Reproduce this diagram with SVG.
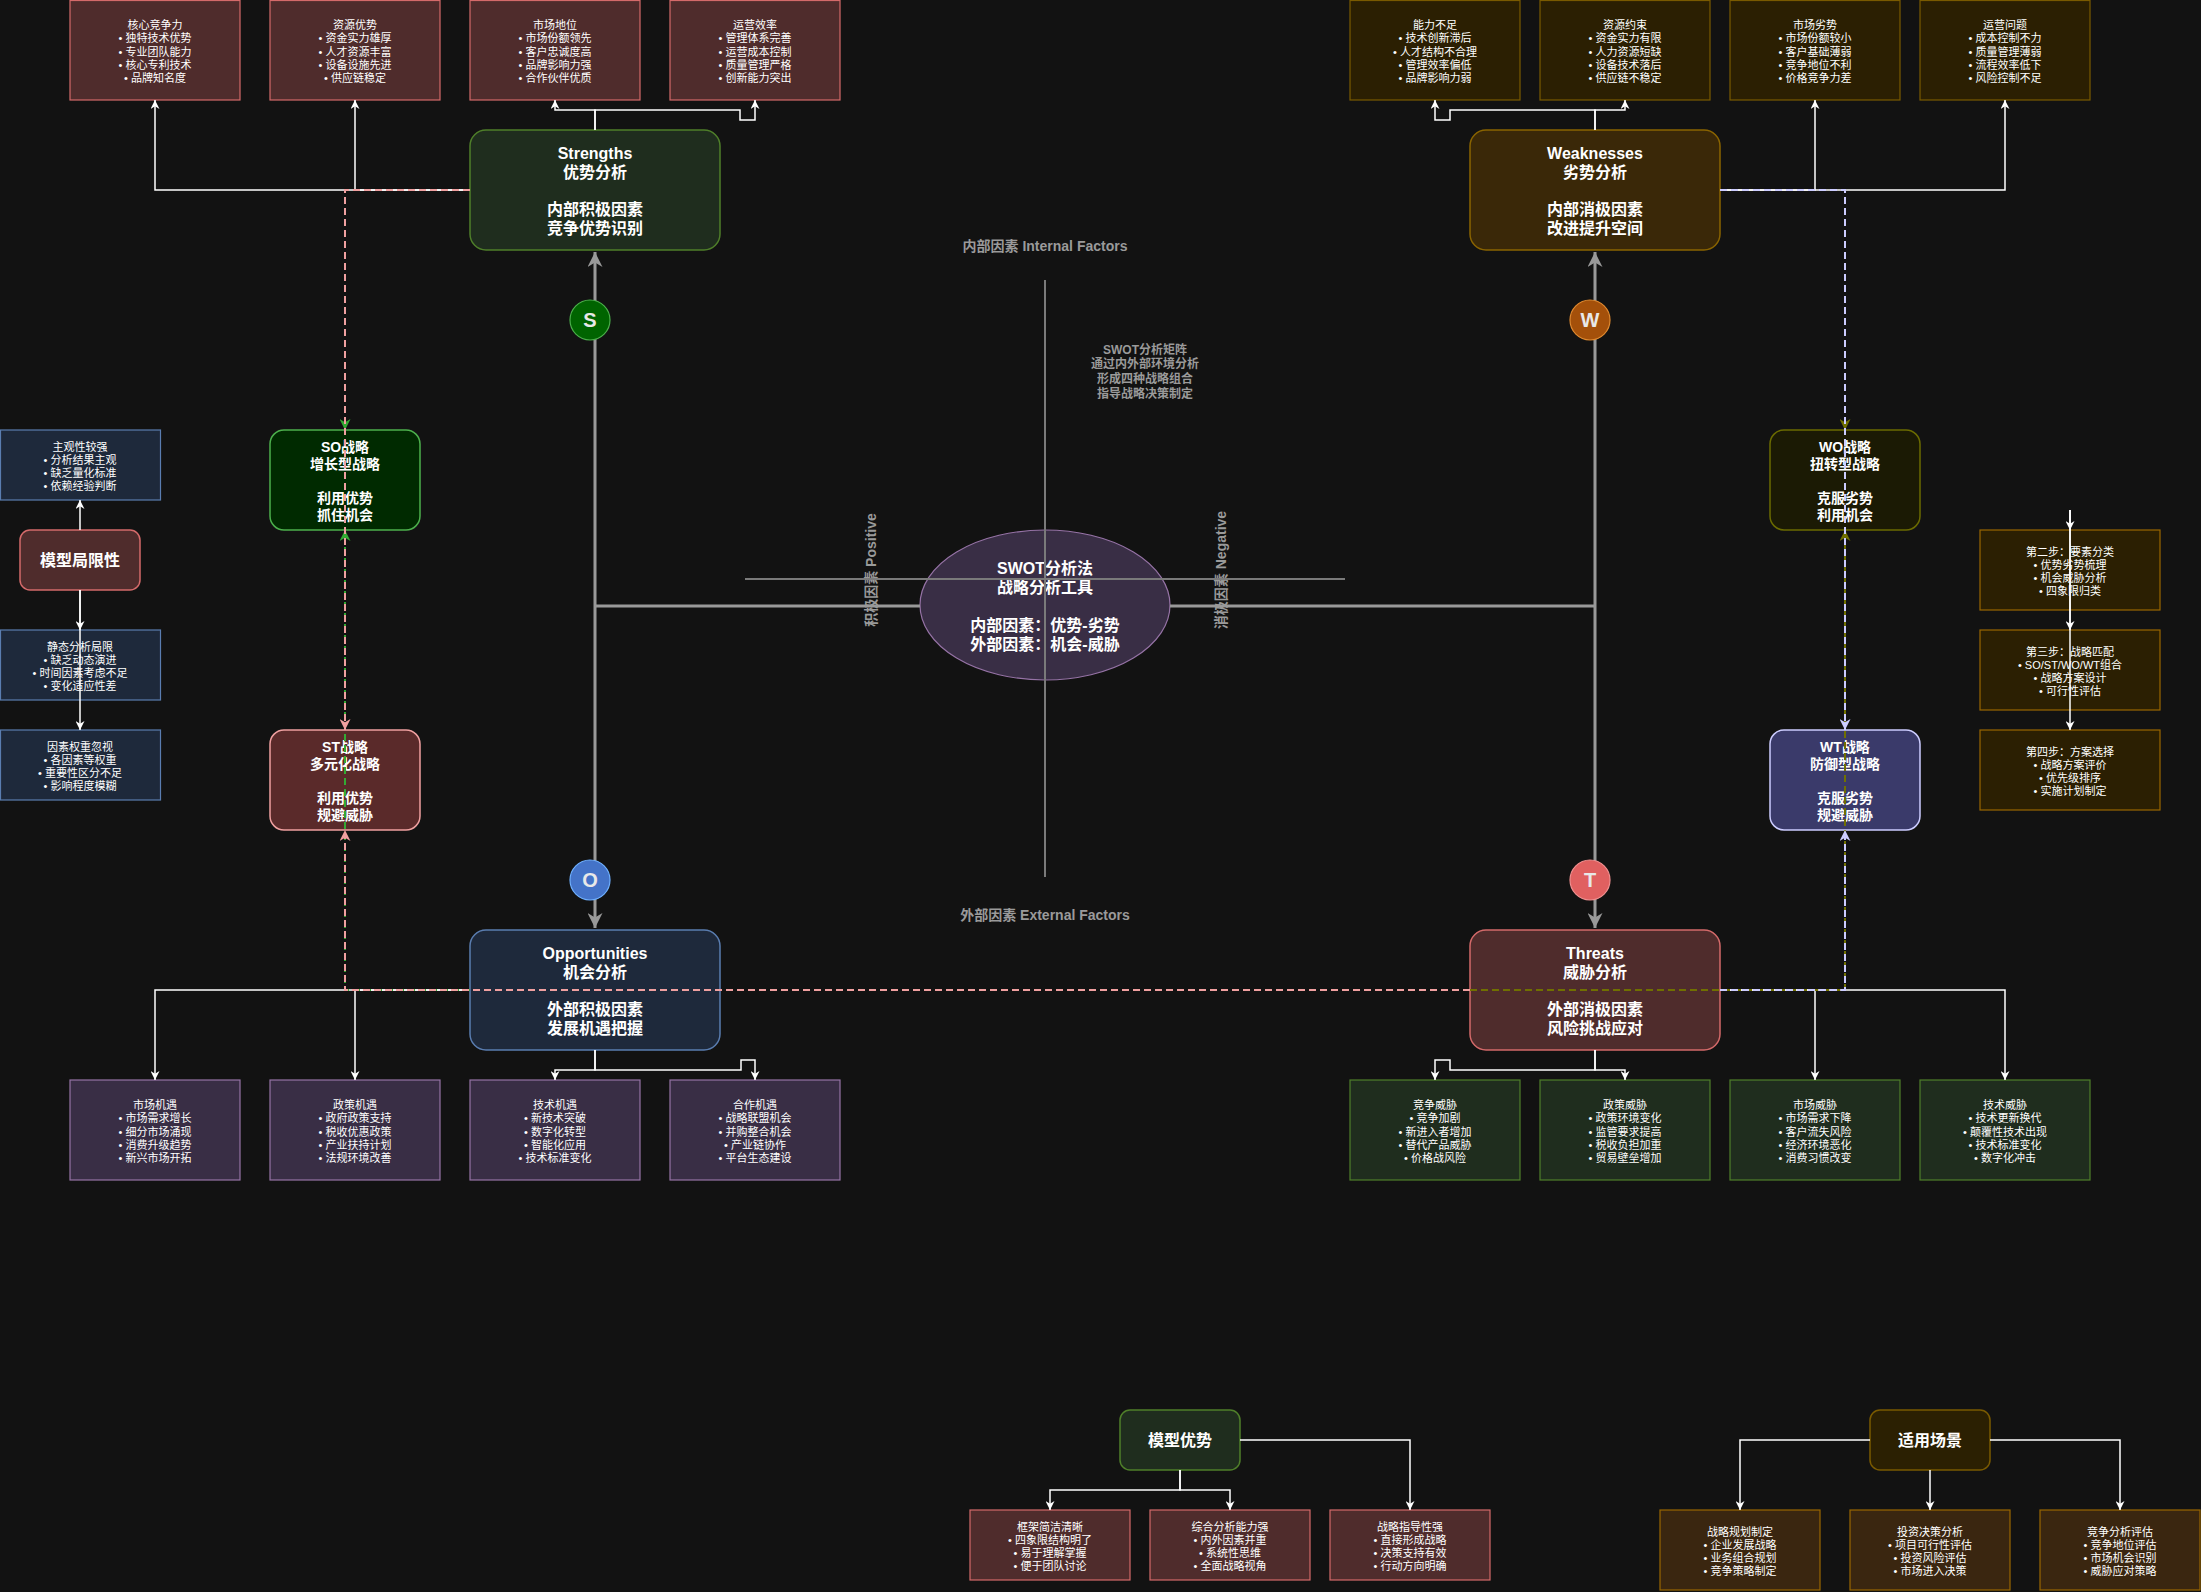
<svg xmlns="http://www.w3.org/2000/svg" width="2201" height="1592" viewBox="0 0 2201 1592">
<defs>
  <style>
    text { font-family: "Liberation Sans", "Noto Sans CJK SC", sans-serif; fill: #ffffff; text-anchor: middle; }
    .sm { font-size: 11px; }
    .big { font-size: 16px; font-weight: bold; }
    .mid { font-size: 14px; font-weight: bold; }
    .note { font-size: 12px; font-weight: bold; fill: #9a9a9a; }
    .axis-label { font-size: 14px; font-weight: bold; fill: #9a9a9a; }
    .letter { font-size: 20px; font-weight: bold; fill: #e8e8e8; }
    .s-box { fill: #4f2c2c; stroke: #d46a6a; stroke-width: 1.2; }
    .w-box { fill: #2b1f02; stroke: #7a5a00; stroke-width: 1.2; }
    .o-box { fill: #392e45; stroke: #9673a6; stroke-width: 1.2; }
    .t-box { fill: #1f2d1e; stroke: #4f7f2a; stroke-width: 1.2; }
    .b-box { fill: #1e293b; stroke: #5a7db0; stroke-width: 1.2; }
    .a-box { fill: #2b1f02; stroke: #996600; stroke-width: 1.2; }
    .a2-box { fill: #3a2610; stroke: #996600; stroke-width: 1.2; }
    .wire { fill: none; stroke: #ffffff; stroke-width: 1.5; marker-end: url(#aw); }
    .axis { fill: none; stroke: #999999; stroke-width: 3; }
    .cross { fill: none; stroke: #7a7a7a; stroke-width: 2; }
    .dash { fill: none; stroke-width: 2; stroke-dasharray: 7 4; }
  </style>
  <marker id="aw" viewBox="0 0 10 10" refX="10" refY="5" markerWidth="9" markerHeight="9" orient="auto" markerUnits="userSpaceOnUse">
    <path d="M0,0 L10,5 L0,10 L3,5 z" fill="#ffffff"/>
  </marker>
  <marker id="ag" viewBox="0 0 10 10" refX="10" refY="5" markerWidth="15" markerHeight="15" orient="auto" markerUnits="userSpaceOnUse">
    <path d="M0,0 L10,5 L0,10 L3,5 z" fill="#999999"/>
  </marker>
  <marker id="a-green" viewBox="0 0 10 10" refX="10" refY="5" markerWidth="11" markerHeight="11" orient="auto" markerUnits="userSpaceOnUse">
    <path d="M0,0 L10,5 L0,10 L3,5 z" fill="#33aa33"/>
  </marker>
  <marker id="a-pink" viewBox="0 0 10 10" refX="10" refY="5" markerWidth="11" markerHeight="11" orient="auto" markerUnits="userSpaceOnUse">
    <path d="M0,0 L10,5 L0,10 L3,5 z" fill="#f0a0a0"/>
  </marker>
  <marker id="a-olive" viewBox="0 0 10 10" refX="10" refY="5" markerWidth="11" markerHeight="11" orient="auto" markerUnits="userSpaceOnUse">
    <path d="M0,0 L10,5 L0,10 L3,5 z" fill="#707000"/>
  </marker>
  <marker id="a-lav" viewBox="0 0 10 10" refX="10" refY="5" markerWidth="11" markerHeight="11" orient="auto" markerUnits="userSpaceOnUse">
    <path d="M0,0 L10,5 L0,10 L3,5 z" fill="#ccccff"/>
  </marker>
</defs>

<rect x="0" y="0" width="2201" height="1592" fill="#121212"/>

<!-- Strengths factor boxes -->
<g id="s-core"><rect class="s-box" x="70" y="0.5" width="170" height="99.5"/>
  <text class="sm"><tspan x="155" y="29">核心竞争力</tspan><tspan x="155" y="42.3">• 独特技术优势</tspan><tspan x="155" y="55.6">• 专业团队能力</tspan><tspan x="155" y="68.9">• 核心专利技术</tspan><tspan x="155" y="82.2">• 品牌知名度</tspan></text></g>
<g id="s-resource"><rect class="s-box" x="270" y="0.5" width="170" height="99.5"/>
  <text class="sm"><tspan x="355" y="29">资源优势</tspan><tspan x="355" y="42.3">• 资金实力雄厚</tspan><tspan x="355" y="55.6">• 人才资源丰富</tspan><tspan x="355" y="68.9">• 设备设施先进</tspan><tspan x="355" y="82.2">• 供应链稳定</tspan></text></g>
<g id="s-market"><rect class="s-box" x="470" y="0.5" width="170" height="99.5"/>
  <text class="sm"><tspan x="555" y="29">市场地位</tspan><tspan x="555" y="42.3">• 市场份额领先</tspan><tspan x="555" y="55.6">• 客户忠诚度高</tspan><tspan x="555" y="68.9">• 品牌影响力强</tspan><tspan x="555" y="82.2">• 合作伙伴优质</tspan></text></g>
<g id="s-ops"><rect class="s-box" x="670" y="0.5" width="170" height="99.5"/>
  <text class="sm"><tspan x="755" y="29">运营效率</tspan><tspan x="755" y="42.3">• 管理体系完善</tspan><tspan x="755" y="55.6">• 运营成本控制</tspan><tspan x="755" y="68.9">• 质量管理严格</tspan><tspan x="755" y="82.2">• 创新能力突出</tspan></text></g>

<!-- Weakness factor boxes -->
<g id="w-ability"><rect class="w-box" x="1350" y="0.5" width="170" height="99.5"/>
  <text class="sm"><tspan x="1435" y="29">能力不足</tspan><tspan x="1435" y="42.3">• 技术创新滞后</tspan><tspan x="1435" y="55.6">• 人才结构不合理</tspan><tspan x="1435" y="68.9">• 管理效率偏低</tspan><tspan x="1435" y="82.2">• 品牌影响力弱</tspan></text></g>
<g id="w-resource"><rect class="w-box" x="1540" y="0.5" width="170" height="99.5"/>
  <text class="sm"><tspan x="1625" y="29">资源约束</tspan><tspan x="1625" y="42.3">• 资金实力有限</tspan><tspan x="1625" y="55.6">• 人力资源短缺</tspan><tspan x="1625" y="68.9">• 设备技术落后</tspan><tspan x="1625" y="82.2">• 供应链不稳定</tspan></text></g>
<g id="w-market"><rect class="w-box" x="1730" y="0.5" width="170" height="99.5"/>
  <text class="sm"><tspan x="1815" y="29">市场劣势</tspan><tspan x="1815" y="42.3">• 市场份额较小</tspan><tspan x="1815" y="55.6">• 客户基础薄弱</tspan><tspan x="1815" y="68.9">• 竞争地位不利</tspan><tspan x="1815" y="82.2">• 价格竞争力差</tspan></text></g>
<g id="w-ops"><rect class="w-box" x="1920" y="0.5" width="170" height="99.5"/>
  <text class="sm"><tspan x="2005" y="29">运营问题</tspan><tspan x="2005" y="42.3">• 成本控制不力</tspan><tspan x="2005" y="55.6">• 质量管理薄弱</tspan><tspan x="2005" y="68.9">• 流程效率低下</tspan><tspan x="2005" y="82.2">• 风险控制不足</tspan></text></g>

<!-- Opportunity factor boxes -->
<g id="o-market"><rect class="o-box" x="70" y="1080" width="170" height="100"/>
  <text class="sm"><tspan x="155" y="1109">市场机遇</tspan><tspan x="155" y="1122.3">• 市场需求增长</tspan><tspan x="155" y="1135.6">• 细分市场涌现</tspan><tspan x="155" y="1148.9">• 消费升级趋势</tspan><tspan x="155" y="1162.2">• 新兴市场开拓</tspan></text></g>
<g id="o-policy"><rect class="o-box" x="270" y="1080" width="170" height="100"/>
  <text class="sm"><tspan x="355" y="1109">政策机遇</tspan><tspan x="355" y="1122.3">• 政府政策支持</tspan><tspan x="355" y="1135.6">• 税收优惠政策</tspan><tspan x="355" y="1148.9">• 产业扶持计划</tspan><tspan x="355" y="1162.2">• 法规环境改善</tspan></text></g>
<g id="o-tech"><rect class="o-box" x="470" y="1080" width="170" height="100"/>
  <text class="sm"><tspan x="555" y="1109">技术机遇</tspan><tspan x="555" y="1122.3">• 新技术突破</tspan><tspan x="555" y="1135.6">• 数字化转型</tspan><tspan x="555" y="1148.9">• 智能化应用</tspan><tspan x="555" y="1162.2">• 技术标准变化</tspan></text></g>
<g id="o-coop"><rect class="o-box" x="670" y="1080" width="170" height="100"/>
  <text class="sm"><tspan x="755" y="1109">合作机遇</tspan><tspan x="755" y="1122.3">• 战略联盟机会</tspan><tspan x="755" y="1135.6">• 并购整合机会</tspan><tspan x="755" y="1148.9">• 产业链协作</tspan><tspan x="755" y="1162.2">• 平台生态建设</tspan></text></g>

<!-- Threat factor boxes -->
<g id="t-comp"><rect class="t-box" x="1350" y="1080" width="170" height="100"/>
  <text class="sm"><tspan x="1435" y="1109">竞争威胁</tspan><tspan x="1435" y="1122.3">• 竞争加剧</tspan><tspan x="1435" y="1135.6">• 新进入者增加</tspan><tspan x="1435" y="1148.9">• 替代产品威胁</tspan><tspan x="1435" y="1162.2">• 价格战风险</tspan></text></g>
<g id="t-policy"><rect class="t-box" x="1540" y="1080" width="170" height="100"/>
  <text class="sm"><tspan x="1625" y="1109">政策威胁</tspan><tspan x="1625" y="1122.3">• 政策环境变化</tspan><tspan x="1625" y="1135.6">• 监管要求提高</tspan><tspan x="1625" y="1148.9">• 税收负担加重</tspan><tspan x="1625" y="1162.2">• 贸易壁垒增加</tspan></text></g>
<g id="t-market"><rect class="t-box" x="1730" y="1080" width="170" height="100"/>
  <text class="sm"><tspan x="1815" y="1109">市场威胁</tspan><tspan x="1815" y="1122.3">• 市场需求下降</tspan><tspan x="1815" y="1135.6">• 客户流失风险</tspan><tspan x="1815" y="1148.9">• 经济环境恶化</tspan><tspan x="1815" y="1162.2">• 消费习惯改变</tspan></text></g>
<g id="t-tech"><rect class="t-box" x="1920" y="1080" width="170" height="100"/>
  <text class="sm"><tspan x="2005" y="1109">技术威胁</tspan><tspan x="2005" y="1122.3">• 技术更新换代</tspan><tspan x="2005" y="1135.6">• 颠覆性技术出现</tspan><tspan x="2005" y="1148.9">• 技术标准变化</tspan><tspan x="2005" y="1162.2">• 数字化冲击</tspan></text></g>

<!-- Four main quadrant nodes -->
<g id="strengths"><rect x="470" y="130" width="250" height="120" rx="16" fill="#1f2d1e" stroke="#4f7f2a" stroke-width="1.5"/>
  <text class="big"><tspan x="595" y="158.5">Strengths</tspan><tspan x="595" y="177.5">优势分析</tspan><tspan x="595" y="214.5">内部积极因素</tspan><tspan x="595" y="233.5">竞争优势识别</tspan></text></g>
<g id="weaknesses"><rect x="1470" y="130" width="250" height="120" rx="16" fill="#3a2808" stroke="#8a6400" stroke-width="1.5"/>
  <text class="big"><tspan x="1595" y="158.5">Weaknesses</tspan><tspan x="1595" y="177.5">劣势分析</tspan><tspan x="1595" y="214.5">内部消极因素</tspan><tspan x="1595" y="233.5">改进提升空间</tspan></text></g>
<g id="opportunities"><rect x="470" y="930" width="250" height="120" rx="16" fill="#1e293b" stroke="#5a7db0" stroke-width="1.5"/>
  <text class="big"><tspan x="595" y="958.5">Opportunities</tspan><tspan x="595" y="977.5">机会分析</tspan><tspan x="595" y="1014.5">外部积极因素</tspan><tspan x="595" y="1033.5">发展机遇把握</tspan></text></g>
<g id="threats"><rect x="1470" y="930" width="250" height="120" rx="16" fill="#4f2c2c" stroke="#d46a6a" stroke-width="1.5"/>
  <text class="big"><tspan x="1595" y="958.5">Threats</tspan><tspan x="1595" y="977.5">威胁分析</tspan><tspan x="1595" y="1014.5">外部消极因素</tspan><tspan x="1595" y="1033.5">风险挑战应对</tspan></text></g>

<!-- Strategy nodes -->
<g id="so"><rect x="270" y="430" width="150" height="100" rx="14" fill="#002a00" stroke="#4cb04c" stroke-width="1.5"/>
  <text class="mid"><tspan x="345" y="451.5">SO战略</tspan><tspan x="345" y="468.5">增长型战略</tspan><tspan x="345" y="502.5">利用优势</tspan><tspan x="345" y="519.5">抓住机会</tspan></text></g>
<g id="st"><rect x="270" y="730" width="150" height="100" rx="14" fill="#5a2a2a" stroke="#f0a0a0" stroke-width="1.5"/>
  <text class="mid"><tspan x="345" y="751.5">ST战略</tspan><tspan x="345" y="768.5">多元化战略</tspan><tspan x="345" y="802.5">利用优势</tspan><tspan x="345" y="819.5">规避威胁</tspan></text></g>
<g id="wo"><rect x="1770" y="430" width="150" height="100" rx="14" fill="#1b1a04" stroke="#6b6b00" stroke-width="1.5"/>
  <text class="mid"><tspan x="1845" y="451.5">WO战略</tspan><tspan x="1845" y="468.5">扭转型战略</tspan><tspan x="1845" y="502.5">克服劣势</tspan><tspan x="1845" y="519.5">利用机会</tspan></text></g>
<g id="wt"><rect x="1770" y="730" width="150" height="100" rx="14" fill="#3a3a6a" stroke="#ccccff" stroke-width="1.5"/>
  <text class="mid"><tspan x="1845" y="751.5">WT战略</tspan><tspan x="1845" y="768.5">防御型战略</tspan><tspan x="1845" y="802.5">克服劣势</tspan><tspan x="1845" y="819.5">规避威胁</tspan></text></g>

<!-- Central hub -->
<g id="swot-core"><ellipse cx="1045" cy="605" rx="125" ry="75" fill="#392e45" stroke="#9673a6" stroke-width="1.2"/>
  <text class="big"><tspan x="1045" y="573.5">SWOT分析法</tspan><tspan x="1045" y="592.5">战略分析工具</tspan><tspan x="1045" y="630.5">内部因素：优势-劣势</tspan><tspan x="1045" y="649.5">外部因素：机会-威胁</tspan></text></g>

<!-- Axis captions -->
<g id="captions">
  <text class="axis-label" x="1045" y="251">内部因素 Internal Factors</text>
  <text class="axis-label" x="1045" y="920">外部因素 External Factors</text>
  <text class="axis-label" x="876" y="570" transform="rotate(-90 876 570)">积极因素 Positive</text>
  <text class="axis-label" x="1226" y="570" transform="rotate(-90 1226 570)">消极因素 Negative</text>
  <text class="note"><tspan x="1145" y="353.5">SWOT分析矩阵</tspan><tspan x="1145" y="368.2">通过内外部环境分析</tspan><tspan x="1145" y="382.9">形成四种战略组合</tspan><tspan x="1145" y="397.6">指导战略决策制定</tspan></text>
</g>

<!-- Limitations panel -->
<g id="limits"><rect x="20" y="530" width="120" height="60" rx="10" fill="#4f2c2c" stroke="#d46a6a" stroke-width="1.5"/>
  <text class="big" x="80" y="566">模型局限性</text></g>
<g id="lim-subjective"><rect class="b-box" x="0.5" y="430" width="160" height="70"/>
  <text class="sm"><tspan x="80" y="450.5">主观性较强</tspan><tspan x="80" y="463.8">• 分析结果主观</tspan><tspan x="80" y="477.1">• 缺乏量化标准</tspan><tspan x="80" y="490.4">• 依赖经验判断</tspan></text></g>
<g id="lim-static"><rect class="b-box" x="0.5" y="630" width="160" height="70"/>
  <text class="sm"><tspan x="80" y="650.5">静态分析局限</tspan><tspan x="80" y="663.8">• 缺乏动态演进</tspan><tspan x="80" y="677.1">• 时间因素考虑不足</tspan><tspan x="80" y="690.4">• 变化适应性差</tspan></text></g>
<g id="lim-weight"><rect class="b-box" x="0.5" y="730" width="160" height="70"/>
  <text class="sm"><tspan x="80" y="750.5">因素权重忽视</tspan><tspan x="80" y="763.8">• 各因素等权重</tspan><tspan x="80" y="777.1">• 重要性区分不足</tspan><tspan x="80" y="790.4">• 影响程度模糊</tspan></text></g>

<!-- Process steps -->
<g id="step2"><rect class="a-box" x="1980" y="530" width="180" height="80"/>
  <text class="sm"><tspan x="2070" y="555.5">第二步：要素分类</tspan><tspan x="2070" y="568.8">• 优势劣势梳理</tspan><tspan x="2070" y="582.1">• 机会威胁分析</tspan><tspan x="2070" y="595.4">• 四象限归类</tspan></text></g>
<g id="step3"><rect class="a-box" x="1980" y="630" width="180" height="80"/>
  <text class="sm"><tspan x="2070" y="655.5">第三步：战略匹配</tspan><tspan x="2070" y="668.8">• SO/ST/WO/WT组合</tspan><tspan x="2070" y="682.1">• 战略方案设计</tspan><tspan x="2070" y="695.4">• 可行性评估</tspan></text></g>
<g id="step4"><rect class="a-box" x="1980" y="730" width="180" height="80"/>
  <text class="sm"><tspan x="2070" y="755.5">第四步：方案选择</tspan><tspan x="2070" y="768.8">• 战略方案评价</tspan><tspan x="2070" y="782.1">• 优先级排序</tspan><tspan x="2070" y="795.4">• 实施计划制定</tspan></text></g>

<!-- Advantages -->
<g id="advantages"><rect x="1120" y="1410" width="120" height="60" rx="10" fill="#1f2d1e" stroke="#4f7f2a" stroke-width="1.5"/>
  <text class="big" x="1180" y="1446">模型优势</text></g>
<g id="adv-simple"><rect class="s-box" x="970" y="1510" width="160" height="70"/>
  <text class="sm"><tspan x="1050" y="1530.5">框架简洁清晰</tspan><tspan x="1050" y="1543.8">• 四象限结构明了</tspan><tspan x="1050" y="1557.1">• 易于理解掌握</tspan><tspan x="1050" y="1570.4">• 便于团队讨论</tspan></text></g>
<g id="adv-analysis"><rect class="s-box" x="1150" y="1510" width="160" height="70"/>
  <text class="sm"><tspan x="1230" y="1530.5">综合分析能力强</tspan><tspan x="1230" y="1543.8">• 内外因素并重</tspan><tspan x="1230" y="1557.1">• 系统性思维</tspan><tspan x="1230" y="1570.4">• 全面战略视角</tspan></text></g>
<g id="adv-guide"><rect class="s-box" x="1330" y="1510" width="160" height="70"/>
  <text class="sm"><tspan x="1410" y="1530.5">战略指导性强</tspan><tspan x="1410" y="1543.8">• 直接形成战略</tspan><tspan x="1410" y="1557.1">• 决策支持有效</tspan><tspan x="1410" y="1570.4">• 行动方向明确</tspan></text></g>

<!-- Use cases -->
<g id="usecases"><rect x="1870" y="1410" width="120" height="60" rx="10" fill="#2b2002" stroke="#7a5a00" stroke-width="1.5"/>
  <text class="big" x="1930" y="1446">适用场景</text></g>
<g id="use-plan"><rect class="a2-box" x="1660" y="1510" width="160" height="80"/>
  <text class="sm"><tspan x="1740" y="1535.5">战略规划制定</tspan><tspan x="1740" y="1548.8">• 企业发展战略</tspan><tspan x="1740" y="1562.1">• 业务组合规划</tspan><tspan x="1740" y="1575.4">• 竞争策略制定</tspan></text></g>
<g id="use-invest"><rect class="a2-box" x="1850" y="1510" width="160" height="80"/>
  <text class="sm"><tspan x="1930" y="1535.5">投资决策分析</tspan><tspan x="1930" y="1548.8">• 项目可行性评估</tspan><tspan x="1930" y="1562.1">• 投资风险评估</tspan><tspan x="1930" y="1575.4">• 市场进入决策</tspan></text></g>
<g id="use-compete"><rect class="a2-box" x="2040" y="1510" width="160" height="80"/>
  <text class="sm"><tspan x="2120" y="1535.5">竞争分析评估</tspan><tspan x="2120" y="1548.8">• 竞争地位评估</tspan><tspan x="2120" y="1562.1">• 市场机会识别</tspan><tspan x="2120" y="1575.4">• 威胁应对策略</tspan></text></g>

<!-- Connectors -->
<g id="connectors">
  <!-- matrix cross -->
  <path class="cross" d="M1045,280 V877"/>
  <path class="cross" d="M745,579 H1345"/>
  <!-- hub to quadrants -->
  <path class="axis" d="M920,606 H595"/>
  <path class="axis" d="M1170,606 H1595"/>
  <path class="axis" d="M595,606 V252" marker-end="url(#ag)"/>
  <path class="axis" d="M595,606 V928" marker-end="url(#ag)"/>
  <path class="axis" d="M1595,606 V252" marker-end="url(#ag)"/>
  <path class="axis" d="M1595,606 V928" marker-end="url(#ag)"/>

  <!-- Strengths to factors -->
  <path class="wire" d="M470,190 H155 V100"/>
  <path class="wire" d="M470,190 H355 V100"/>
  <path class="wire" d="M595,130 V110 H555 V100"/>
  <path class="wire" d="M595,130 V110 H740 V120 H755 V100"/>
  <!-- Weaknesses to factors -->
  <path class="wire" d="M1595,130 V110 H1450 V120 H1435 V100"/>
  <path class="wire" d="M1595,130 V110 H1625 V100"/>
  <path class="wire" d="M1720,190 H1815 V100"/>
  <path class="wire" d="M1720,190 H2005 V100"/>
  <!-- Opportunities to factors -->
  <path class="wire" d="M470,990 H155 V1080"/>
  <path class="wire" d="M470,990 H355 V1080"/>
  <path class="wire" d="M595,1050 V1070 H555 V1080"/>
  <path class="wire" d="M595,1050 V1070 H741 V1060 H755 V1080"/>
  <!-- Threats to factors -->
  <path class="wire" d="M1595,1050 V1070 H1450 V1060 H1435 V1080"/>
  <path class="wire" d="M1595,1050 V1070 H1625 V1080"/>
  <path class="wire" d="M1720,990 H1815 V1080"/>
  <path class="wire" d="M1720,990 H2005 V1080"/>

  <!-- limitations -->
  <path class="wire" d="M80,530 V500"/>
  <path class="wire" d="M80,590 V630"/>
  <path class="wire" d="M80,590 V730"/>
  <!-- process steps -->
  <path class="wire" d="M2070,510 V530"/>
  <path class="wire" d="M2070,510 V630"/>
  <path class="wire" d="M2070,510 V730"/>
  <!-- advantages -->
  <path class="wire" d="M1180,1470 V1490 H1050 V1510"/>
  <path class="wire" d="M1180,1470 V1490 H1230 V1510"/>
  <path class="wire" d="M1240,1440 H1410 V1510"/>
  <!-- use cases -->
  <path class="wire" d="M1870,1440 H1740 V1510"/>
  <path class="wire" d="M1930,1470 V1510"/>
  <path class="wire" d="M1990,1440 H2120 V1510"/>

  <!-- strategy links -->
  <path class="dash" stroke="#707000" d="M1470,990 H1845 V530" marker-end="url(#a-olive)"/>
  <path class="dash" stroke="#33aa33" d="M470,990 H345 V530" marker-end="url(#a-green)"/>
  <path class="dash" stroke="#f0a0a0" d="M1470,990 H345 V830" marker-end="url(#a-pink)"/>
  <path class="dash" stroke="#ccccff" d="M1720,990 H1845 V830" marker-end="url(#a-lav)"/>
  <path class="dash" stroke="#33aa33" d="M470,190 H345 V430" marker-end="url(#a-green)"/>
  <path class="dash" stroke="#f0a0a0" d="M470,190 H345 V730" marker-end="url(#a-pink)"/>
  <path class="dash" stroke="#707000" d="M1720,190 H1845 V430" marker-end="url(#a-olive)"/>
  <path class="dash" stroke="#ccccff" d="M1720,190 H1845 V730" marker-end="url(#a-lav)"/>
</g>

<!-- Quadrant markers -->
<g id="mark-s"><circle cx="590" cy="320" r="20" fill="#006400" stroke="#4cb04c" stroke-width="1.2"/><text class="letter" x="590" y="327">S</text></g>
<g id="mark-w"><circle cx="1590" cy="320" r="20" fill="#a4500a" stroke="#e08a30" stroke-width="1.2"/><text class="letter" x="1590" y="327">W</text></g>
<g id="mark-o"><circle cx="590" cy="880" r="20" fill="#4473c8" stroke="#6fb0ff" stroke-width="1.2"/><text class="letter" x="590" y="887">O</text></g>
<g id="mark-t"><circle cx="1590" cy="880" r="20" fill="#e06060" stroke="#f09090" stroke-width="1.2"/><text class="letter" x="1590" y="887">T</text></g>
</svg>
